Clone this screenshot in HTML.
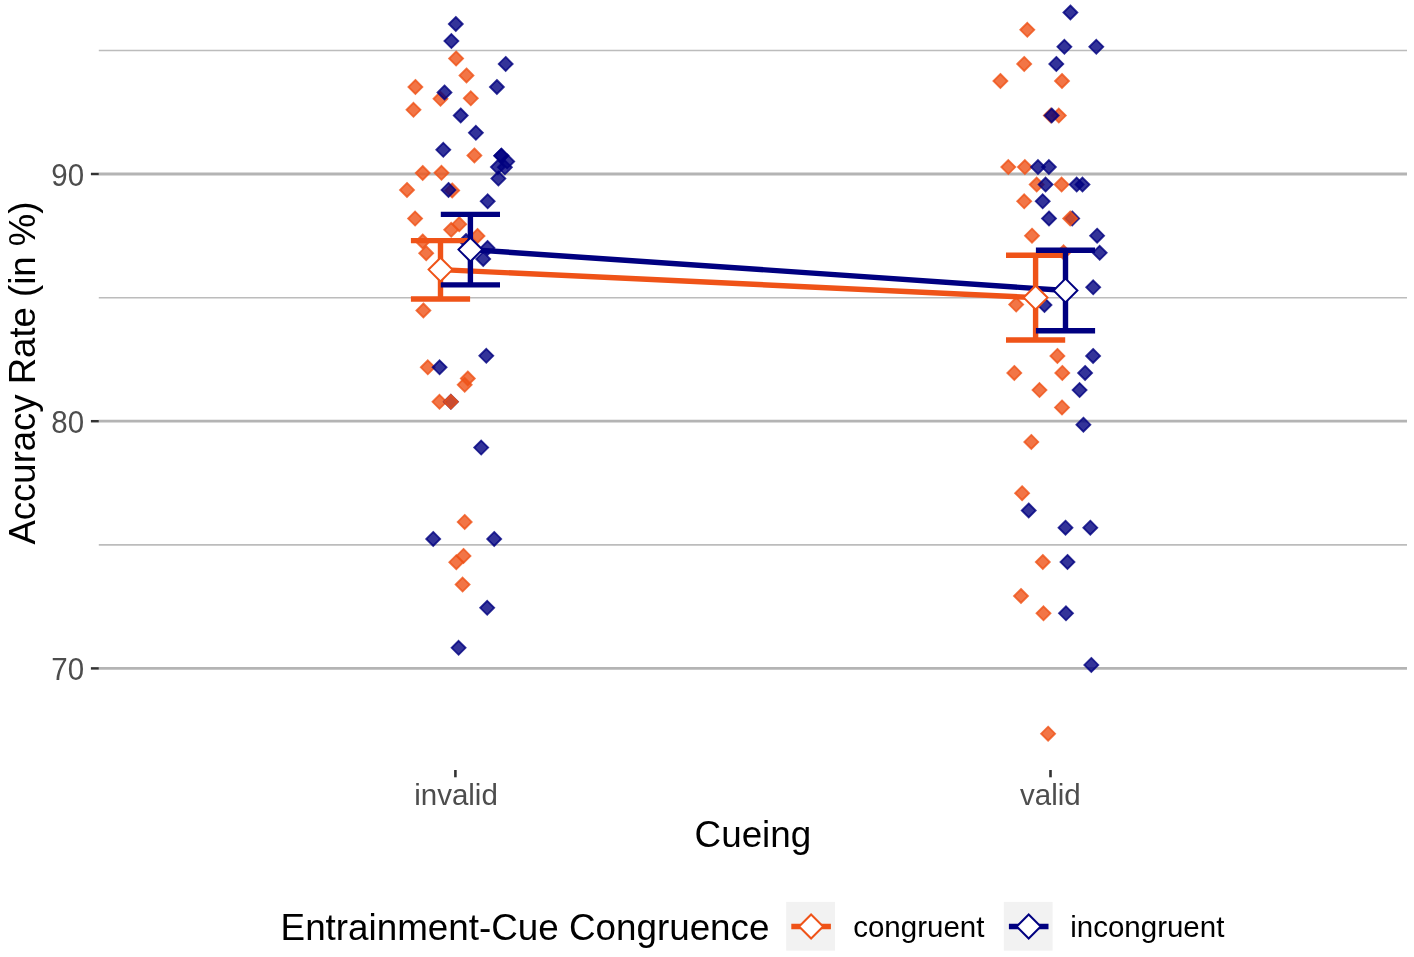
<!DOCTYPE html><html><head><meta charset="utf-8"><title>Accuracy Rate</title><style>html,body{margin:0;padding:0;background:#fff;}svg{display:block;will-change:transform;}text{font-family:"Liberation Sans",sans-serif;}</style></head><body>
<svg width="1414" height="957" viewBox="0 0 1414 957">
<rect width="1414" height="957" fill="#fff"/>
<line x1="98.8" y1="50.5" x2="1407.0" y2="50.5" stroke="#bcbcbc" stroke-width="1.6"/>
<line x1="98.8" y1="297.7" x2="1407.0" y2="297.7" stroke="#bcbcbc" stroke-width="1.6"/>
<line x1="98.8" y1="544.9" x2="1407.0" y2="544.9" stroke="#bcbcbc" stroke-width="1.6"/>
<line x1="98.8" y1="174.0" x2="1407.0" y2="174.0" stroke="#b4b4b4" stroke-width="2.8"/>
<line x1="98.8" y1="421.2" x2="1407.0" y2="421.2" stroke="#b4b4b4" stroke-width="2.8"/>
<line x1="98.8" y1="668.4" x2="1407.0" y2="668.4" stroke="#b4b4b4" stroke-width="2.8"/>
<line x1="90.9" y1="174.0" x2="98.8" y2="174.0" stroke="#333" stroke-width="2.5"/>
<line x1="90.9" y1="421.2" x2="98.8" y2="421.2" stroke="#333" stroke-width="2.5"/>
<line x1="90.9" y1="668.4" x2="98.8" y2="668.4" stroke="#333" stroke-width="2.5"/>
<line x1="455.4" y1="770" x2="455.4" y2="777.3" stroke="#333" stroke-width="2.6"/>
<line x1="1050.5" y1="770" x2="1050.5" y2="777.3" stroke="#333" stroke-width="2.6"/>
<path d="M456.1 51.5L463.1 58.5L456.1 65.5L449.1 58.5Z" fill="#EF5318" fill-opacity="0.8" stroke="#EF5318" stroke-opacity="0.8" stroke-width="1.8" stroke-linejoin="miter"/><path d="M466.5 68.4L473.5 75.4L466.5 82.4L459.5 75.4Z" fill="#EF5318" fill-opacity="0.8" stroke="#EF5318" stroke-opacity="0.8" stroke-width="1.8" stroke-linejoin="miter"/><path d="M415.4 80.0L422.4 87.0L415.4 94.0L408.4 87.0Z" fill="#EF5318" fill-opacity="0.8" stroke="#EF5318" stroke-opacity="0.8" stroke-width="1.8" stroke-linejoin="miter"/><path d="M440.5 91.8L447.5 98.8L440.5 105.8L433.5 98.8Z" fill="#EF5318" fill-opacity="0.8" stroke="#EF5318" stroke-opacity="0.8" stroke-width="1.8" stroke-linejoin="miter"/><path d="M470.8 91.3L477.8 98.3L470.8 105.3L463.8 98.3Z" fill="#EF5318" fill-opacity="0.8" stroke="#EF5318" stroke-opacity="0.8" stroke-width="1.8" stroke-linejoin="miter"/><path d="M413.5 102.8L420.5 109.8L413.5 116.8L406.5 109.8Z" fill="#EF5318" fill-opacity="0.8" stroke="#EF5318" stroke-opacity="0.8" stroke-width="1.8" stroke-linejoin="miter"/><path d="M474.4 148.4L481.4 155.4L474.4 162.4L467.4 155.4Z" fill="#EF5318" fill-opacity="0.8" stroke="#EF5318" stroke-opacity="0.8" stroke-width="1.8" stroke-linejoin="miter"/><path d="M422.7 166.0L429.7 173.0L422.7 180.0L415.7 173.0Z" fill="#EF5318" fill-opacity="0.8" stroke="#EF5318" stroke-opacity="0.8" stroke-width="1.8" stroke-linejoin="miter"/><path d="M441.5 165.8L448.5 172.8L441.5 179.8L434.5 172.8Z" fill="#EF5318" fill-opacity="0.8" stroke="#EF5318" stroke-opacity="0.8" stroke-width="1.8" stroke-linejoin="miter"/><path d="M407.0 182.9L414.0 189.9L407.0 196.9L400.0 189.9Z" fill="#EF5318" fill-opacity="0.8" stroke="#EF5318" stroke-opacity="0.8" stroke-width="1.8" stroke-linejoin="miter"/><path d="M452.2 183.4L459.2 190.4L452.2 197.4L445.2 190.4Z" fill="#EF5318" fill-opacity="0.8" stroke="#EF5318" stroke-opacity="0.8" stroke-width="1.8" stroke-linejoin="miter"/><path d="M415.1 211.6L422.1 218.6L415.1 225.6L408.1 218.6Z" fill="#EF5318" fill-opacity="0.8" stroke="#EF5318" stroke-opacity="0.8" stroke-width="1.8" stroke-linejoin="miter"/><path d="M459.2 217.2L466.2 224.2L459.2 231.2L452.2 224.2Z" fill="#EF5318" fill-opacity="0.8" stroke="#EF5318" stroke-opacity="0.8" stroke-width="1.8" stroke-linejoin="miter"/><path d="M451.2 222.8L458.2 229.8L451.2 236.8L444.2 229.8Z" fill="#EF5318" fill-opacity="0.8" stroke="#EF5318" stroke-opacity="0.8" stroke-width="1.8" stroke-linejoin="miter"/><path d="M477.5 229.0L484.5 236.0L477.5 243.0L470.5 236.0Z" fill="#EF5318" fill-opacity="0.8" stroke="#EF5318" stroke-opacity="0.8" stroke-width="1.8" stroke-linejoin="miter"/><path d="M422.7 234.5L429.7 241.5L422.7 248.5L415.7 241.5Z" fill="#EF5318" fill-opacity="0.8" stroke="#EF5318" stroke-opacity="0.8" stroke-width="1.8" stroke-linejoin="miter"/><path d="M426.2 246.2L433.2 253.2L426.2 260.2L419.2 253.2Z" fill="#EF5318" fill-opacity="0.8" stroke="#EF5318" stroke-opacity="0.8" stroke-width="1.8" stroke-linejoin="miter"/><path d="M423.4 303.5L430.4 310.5L423.4 317.5L416.4 310.5Z" fill="#EF5318" fill-opacity="0.8" stroke="#EF5318" stroke-opacity="0.8" stroke-width="1.8" stroke-linejoin="miter"/><path d="M427.8 360.3L434.8 367.3L427.8 374.3L420.8 367.3Z" fill="#EF5318" fill-opacity="0.8" stroke="#EF5318" stroke-opacity="0.8" stroke-width="1.8" stroke-linejoin="miter"/><path d="M467.8 371.5L474.8 378.5L467.8 385.5L460.8 378.5Z" fill="#EF5318" fill-opacity="0.8" stroke="#EF5318" stroke-opacity="0.8" stroke-width="1.8" stroke-linejoin="miter"/><path d="M464.7 377.8L471.7 384.8L464.7 391.8L457.7 384.8Z" fill="#EF5318" fill-opacity="0.8" stroke="#EF5318" stroke-opacity="0.8" stroke-width="1.8" stroke-linejoin="miter"/><path d="M439.5 394.8L446.5 401.8L439.5 408.8L432.5 401.8Z" fill="#EF5318" fill-opacity="0.8" stroke="#EF5318" stroke-opacity="0.8" stroke-width="1.8" stroke-linejoin="miter"/><path d="M464.7 514.9L471.7 521.9L464.7 528.9L457.7 521.9Z" fill="#EF5318" fill-opacity="0.8" stroke="#EF5318" stroke-opacity="0.8" stroke-width="1.8" stroke-linejoin="miter"/><path d="M463.5 548.9L470.5 555.9L463.5 562.9L456.5 555.9Z" fill="#EF5318" fill-opacity="0.8" stroke="#EF5318" stroke-opacity="0.8" stroke-width="1.8" stroke-linejoin="miter"/><path d="M456.3 555.2L463.3 562.2L456.3 569.2L449.3 562.2Z" fill="#EF5318" fill-opacity="0.8" stroke="#EF5318" stroke-opacity="0.8" stroke-width="1.8" stroke-linejoin="miter"/><path d="M462.6 577.6L469.6 584.6L462.6 591.6L455.6 584.6Z" fill="#EF5318" fill-opacity="0.8" stroke="#EF5318" stroke-opacity="0.8" stroke-width="1.8" stroke-linejoin="miter"/><path d="M1027.3 22.8L1034.3 29.8L1027.3 36.8L1020.3 29.8Z" fill="#EF5318" fill-opacity="0.8" stroke="#EF5318" stroke-opacity="0.8" stroke-width="1.8" stroke-linejoin="miter"/><path d="M1024.2 56.9L1031.2 63.9L1024.2 70.9L1017.2 63.9Z" fill="#EF5318" fill-opacity="0.8" stroke="#EF5318" stroke-opacity="0.8" stroke-width="1.8" stroke-linejoin="miter"/><path d="M1000.4 74.0L1007.4 81.0L1000.4 88.0L993.4 81.0Z" fill="#EF5318" fill-opacity="0.8" stroke="#EF5318" stroke-opacity="0.8" stroke-width="1.8" stroke-linejoin="miter"/><path d="M1062.0 74.0L1069.0 81.0L1062.0 88.0L1055.0 81.0Z" fill="#EF5318" fill-opacity="0.8" stroke="#EF5318" stroke-opacity="0.8" stroke-width="1.8" stroke-linejoin="miter"/><path d="M1050.8 108.6L1057.8 115.6L1050.8 122.6L1043.8 115.6Z" fill="#EF5318" fill-opacity="0.8" stroke="#EF5318" stroke-opacity="0.8" stroke-width="1.8" stroke-linejoin="miter"/><path d="M1058.8 108.6L1065.8 115.6L1058.8 122.6L1051.8 115.6Z" fill="#EF5318" fill-opacity="0.8" stroke="#EF5318" stroke-opacity="0.8" stroke-width="1.8" stroke-linejoin="miter"/><path d="M1008.3 160.1L1015.3 167.1L1008.3 174.1L1001.3 167.1Z" fill="#EF5318" fill-opacity="0.8" stroke="#EF5318" stroke-opacity="0.8" stroke-width="1.8" stroke-linejoin="miter"/><path d="M1024.9 160.1L1031.9 167.1L1024.9 174.1L1017.9 167.1Z" fill="#EF5318" fill-opacity="0.8" stroke="#EF5318" stroke-opacity="0.8" stroke-width="1.8" stroke-linejoin="miter"/><path d="M1036.7 177.6L1043.7 184.6L1036.7 191.6L1029.7 184.6Z" fill="#EF5318" fill-opacity="0.8" stroke="#EF5318" stroke-opacity="0.8" stroke-width="1.8" stroke-linejoin="miter"/><path d="M1061.6 177.6L1068.6 184.6L1061.6 191.6L1054.6 184.6Z" fill="#EF5318" fill-opacity="0.8" stroke="#EF5318" stroke-opacity="0.8" stroke-width="1.8" stroke-linejoin="miter"/><path d="M1024.2 194.3L1031.2 201.3L1024.2 208.3L1017.2 201.3Z" fill="#EF5318" fill-opacity="0.8" stroke="#EF5318" stroke-opacity="0.8" stroke-width="1.8" stroke-linejoin="miter"/><path d="M1032.0 228.7L1039.0 235.7L1032.0 242.7L1025.0 235.7Z" fill="#EF5318" fill-opacity="0.8" stroke="#EF5318" stroke-opacity="0.8" stroke-width="1.8" stroke-linejoin="miter"/><path d="M1063.6 245.3L1070.6 252.3L1063.6 259.3L1056.6 252.3Z" fill="#EF5318" fill-opacity="0.8" stroke="#EF5318" stroke-opacity="0.8" stroke-width="1.8" stroke-linejoin="miter"/><path d="M1016.2 297.6L1023.2 304.6L1016.2 311.6L1009.2 304.6Z" fill="#EF5318" fill-opacity="0.8" stroke="#EF5318" stroke-opacity="0.8" stroke-width="1.8" stroke-linejoin="miter"/><path d="M1057.4 348.9L1064.4 355.9L1057.4 362.9L1050.4 355.9Z" fill="#EF5318" fill-opacity="0.8" stroke="#EF5318" stroke-opacity="0.8" stroke-width="1.8" stroke-linejoin="miter"/><path d="M1014.3 365.9L1021.3 372.9L1014.3 379.9L1007.3 372.9Z" fill="#EF5318" fill-opacity="0.8" stroke="#EF5318" stroke-opacity="0.8" stroke-width="1.8" stroke-linejoin="miter"/><path d="M1062.3 365.9L1069.3 372.9L1062.3 379.9L1055.3 372.9Z" fill="#EF5318" fill-opacity="0.8" stroke="#EF5318" stroke-opacity="0.8" stroke-width="1.8" stroke-linejoin="miter"/><path d="M1039.5 383.1L1046.5 390.1L1039.5 397.1L1032.5 390.1Z" fill="#EF5318" fill-opacity="0.8" stroke="#EF5318" stroke-opacity="0.8" stroke-width="1.8" stroke-linejoin="miter"/><path d="M1062.0 400.4L1069.0 407.4L1062.0 414.4L1055.0 407.4Z" fill="#EF5318" fill-opacity="0.8" stroke="#EF5318" stroke-opacity="0.8" stroke-width="1.8" stroke-linejoin="miter"/><path d="M1031.3 434.9L1038.3 441.9L1031.3 448.9L1024.3 441.9Z" fill="#EF5318" fill-opacity="0.8" stroke="#EF5318" stroke-opacity="0.8" stroke-width="1.8" stroke-linejoin="miter"/><path d="M1022.1 486.2L1029.1 493.2L1022.1 500.2L1015.1 493.2Z" fill="#EF5318" fill-opacity="0.8" stroke="#EF5318" stroke-opacity="0.8" stroke-width="1.8" stroke-linejoin="miter"/><path d="M1042.8 555.0L1049.8 562.0L1042.8 569.0L1035.8 562.0Z" fill="#EF5318" fill-opacity="0.8" stroke="#EF5318" stroke-opacity="0.8" stroke-width="1.8" stroke-linejoin="miter"/><path d="M1021.0 589.0L1028.0 596.0L1021.0 603.0L1014.0 596.0Z" fill="#EF5318" fill-opacity="0.8" stroke="#EF5318" stroke-opacity="0.8" stroke-width="1.8" stroke-linejoin="miter"/><path d="M1043.5 606.3L1050.5 613.3L1043.5 620.3L1036.5 613.3Z" fill="#EF5318" fill-opacity="0.8" stroke="#EF5318" stroke-opacity="0.8" stroke-width="1.8" stroke-linejoin="miter"/><path d="M1048.1 726.7L1055.1 733.7L1048.1 740.7L1041.1 733.7Z" fill="#EF5318" fill-opacity="0.8" stroke="#EF5318" stroke-opacity="0.8" stroke-width="1.8" stroke-linejoin="miter"/>
<path d="M455.8 17.0L462.8 24.0L455.8 31.0L448.8 24.0Z" fill="#000080" fill-opacity="0.8" stroke="#000080" stroke-opacity="0.8" stroke-width="1.8" stroke-linejoin="miter"/><path d="M451.4 34.1L458.4 41.1L451.4 48.1L444.4 41.1Z" fill="#000080" fill-opacity="0.8" stroke="#000080" stroke-opacity="0.8" stroke-width="1.8" stroke-linejoin="miter"/><path d="M505.7 56.9L512.7 63.9L505.7 70.9L498.7 63.9Z" fill="#000080" fill-opacity="0.8" stroke="#000080" stroke-opacity="0.8" stroke-width="1.8" stroke-linejoin="miter"/><path d="M496.9 80.0L503.9 87.0L496.9 94.0L489.9 87.0Z" fill="#000080" fill-opacity="0.8" stroke="#000080" stroke-opacity="0.8" stroke-width="1.8" stroke-linejoin="miter"/><path d="M444.5 85.4L451.5 92.4L444.5 99.4L437.5 92.4Z" fill="#000080" fill-opacity="0.8" stroke="#000080" stroke-opacity="0.8" stroke-width="1.8" stroke-linejoin="miter"/><path d="M460.7 108.5L467.7 115.5L460.7 122.5L453.7 115.5Z" fill="#000080" fill-opacity="0.8" stroke="#000080" stroke-opacity="0.8" stroke-width="1.8" stroke-linejoin="miter"/><path d="M475.9 125.8L482.9 132.8L475.9 139.8L468.9 132.8Z" fill="#000080" fill-opacity="0.8" stroke="#000080" stroke-opacity="0.8" stroke-width="1.8" stroke-linejoin="miter"/><path d="M443.3 142.8L450.3 149.8L443.3 156.8L436.3 149.8Z" fill="#000080" fill-opacity="0.8" stroke="#000080" stroke-opacity="0.8" stroke-width="1.8" stroke-linejoin="miter"/><path d="M501.3 148.7L508.3 155.7L501.3 162.7L494.3 155.7Z" fill="#000080" fill-opacity="0.8" stroke="#000080" stroke-opacity="0.8" stroke-width="1.8" stroke-linejoin="miter"/><path d="M501.3 148.7L508.3 155.7L501.3 162.7L494.3 155.7Z" fill="#000080" fill-opacity="0.8" stroke="#000080" stroke-opacity="0.8" stroke-width="1.8" stroke-linejoin="miter"/><path d="M507.2 154.5L514.2 161.5L507.2 168.5L500.2 161.5Z" fill="#000080" fill-opacity="0.8" stroke="#000080" stroke-opacity="0.8" stroke-width="1.8" stroke-linejoin="miter"/><path d="M497.9 160.1L504.9 167.1L497.9 174.1L490.9 167.1Z" fill="#000080" fill-opacity="0.8" stroke="#000080" stroke-opacity="0.8" stroke-width="1.8" stroke-linejoin="miter"/><path d="M504.9 160.3L511.9 167.3L504.9 174.3L497.9 167.3Z" fill="#000080" fill-opacity="0.8" stroke="#000080" stroke-opacity="0.8" stroke-width="1.8" stroke-linejoin="miter"/><path d="M498.4 171.6L505.4 178.6L498.4 185.6L491.4 178.6Z" fill="#000080" fill-opacity="0.8" stroke="#000080" stroke-opacity="0.8" stroke-width="1.8" stroke-linejoin="miter"/><path d="M448.5 182.9L455.5 189.9L448.5 196.9L441.5 189.9Z" fill="#000080" fill-opacity="0.8" stroke="#000080" stroke-opacity="0.8" stroke-width="1.8" stroke-linejoin="miter"/><path d="M487.7 194.3L494.7 201.3L487.7 208.3L480.7 201.3Z" fill="#000080" fill-opacity="0.8" stroke="#000080" stroke-opacity="0.8" stroke-width="1.8" stroke-linejoin="miter"/><path d="M466.0 234.0L473.0 241.0L466.0 248.0L459.0 241.0Z" fill="#000080" fill-opacity="0.8" stroke="#000080" stroke-opacity="0.8" stroke-width="1.8" stroke-linejoin="miter"/><path d="M487.5 241.0L494.5 248.0L487.5 255.0L480.5 248.0Z" fill="#000080" fill-opacity="0.8" stroke="#000080" stroke-opacity="0.8" stroke-width="1.8" stroke-linejoin="miter"/><path d="M483.2 252.0L490.2 259.0L483.2 266.0L476.2 259.0Z" fill="#000080" fill-opacity="0.8" stroke="#000080" stroke-opacity="0.8" stroke-width="1.8" stroke-linejoin="miter"/><path d="M486.3 348.8L493.3 355.8L486.3 362.8L479.3 355.8Z" fill="#000080" fill-opacity="0.8" stroke="#000080" stroke-opacity="0.8" stroke-width="1.8" stroke-linejoin="miter"/><path d="M439.6 360.3L446.6 367.3L439.6 374.3L432.6 367.3Z" fill="#000080" fill-opacity="0.8" stroke="#000080" stroke-opacity="0.8" stroke-width="1.8" stroke-linejoin="miter"/><path d="M450.9 394.8L457.9 401.8L450.9 408.8L443.9 401.8Z" fill="#000080" fill-opacity="0.8" stroke="#000080" stroke-opacity="0.8" stroke-width="1.8" stroke-linejoin="miter"/><path d="M481.2 440.6L488.2 447.6L481.2 454.6L474.2 447.6Z" fill="#000080" fill-opacity="0.8" stroke="#000080" stroke-opacity="0.8" stroke-width="1.8" stroke-linejoin="miter"/><path d="M433.2 531.9L440.2 538.9L433.2 545.9L426.2 538.9Z" fill="#000080" fill-opacity="0.8" stroke="#000080" stroke-opacity="0.8" stroke-width="1.8" stroke-linejoin="miter"/><path d="M494.2 531.9L501.2 538.9L494.2 545.9L487.2 538.9Z" fill="#000080" fill-opacity="0.8" stroke="#000080" stroke-opacity="0.8" stroke-width="1.8" stroke-linejoin="miter"/><path d="M487.2 600.8L494.2 607.8L487.2 614.8L480.2 607.8Z" fill="#000080" fill-opacity="0.8" stroke="#000080" stroke-opacity="0.8" stroke-width="1.8" stroke-linejoin="miter"/><path d="M458.6 640.8L465.6 647.8L458.6 654.8L451.6 647.8Z" fill="#000080" fill-opacity="0.8" stroke="#000080" stroke-opacity="0.8" stroke-width="1.8" stroke-linejoin="miter"/><path d="M1070.4 5.5L1077.4 12.5L1070.4 19.5L1063.4 12.5Z" fill="#000080" fill-opacity="0.8" stroke="#000080" stroke-opacity="0.8" stroke-width="1.8" stroke-linejoin="miter"/><path d="M1064.4 39.8L1071.4 46.8L1064.4 53.8L1057.4 46.8Z" fill="#000080" fill-opacity="0.8" stroke="#000080" stroke-opacity="0.8" stroke-width="1.8" stroke-linejoin="miter"/><path d="M1096.3 39.8L1103.3 46.8L1096.3 53.8L1089.3 46.8Z" fill="#000080" fill-opacity="0.8" stroke="#000080" stroke-opacity="0.8" stroke-width="1.8" stroke-linejoin="miter"/><path d="M1056.3 56.9L1063.3 63.9L1056.3 70.9L1049.3 63.9Z" fill="#000080" fill-opacity="0.8" stroke="#000080" stroke-opacity="0.8" stroke-width="1.8" stroke-linejoin="miter"/><path d="M1051.7 108.5L1058.7 115.5L1051.7 122.5L1044.7 115.5Z" fill="#000080" fill-opacity="0.8" stroke="#000080" stroke-opacity="0.8" stroke-width="1.8" stroke-linejoin="miter"/><path d="M1038.0 160.1L1045.0 167.1L1038.0 174.1L1031.0 167.1Z" fill="#000080" fill-opacity="0.8" stroke="#000080" stroke-opacity="0.8" stroke-width="1.8" stroke-linejoin="miter"/><path d="M1048.9 160.1L1055.9 167.1L1048.9 174.1L1041.9 167.1Z" fill="#000080" fill-opacity="0.8" stroke="#000080" stroke-opacity="0.8" stroke-width="1.8" stroke-linejoin="miter"/><path d="M1045.6 177.6L1052.6 184.6L1045.6 191.6L1038.6 184.6Z" fill="#000080" fill-opacity="0.8" stroke="#000080" stroke-opacity="0.8" stroke-width="1.8" stroke-linejoin="miter"/><path d="M1076.7 177.6L1083.7 184.6L1076.7 191.6L1069.7 184.6Z" fill="#000080" fill-opacity="0.8" stroke="#000080" stroke-opacity="0.8" stroke-width="1.8" stroke-linejoin="miter"/><path d="M1082.5 177.6L1089.5 184.6L1082.5 191.6L1075.5 184.6Z" fill="#000080" fill-opacity="0.8" stroke="#000080" stroke-opacity="0.8" stroke-width="1.8" stroke-linejoin="miter"/><path d="M1042.7 194.3L1049.7 201.3L1042.7 208.3L1035.7 201.3Z" fill="#000080" fill-opacity="0.8" stroke="#000080" stroke-opacity="0.8" stroke-width="1.8" stroke-linejoin="miter"/><path d="M1049.0 211.5L1056.0 218.5L1049.0 225.5L1042.0 218.5Z" fill="#000080" fill-opacity="0.8" stroke="#000080" stroke-opacity="0.8" stroke-width="1.8" stroke-linejoin="miter"/><path d="M1072.2 211.5L1079.2 218.5L1072.2 225.5L1065.2 218.5Z" fill="#000080" fill-opacity="0.8" stroke="#000080" stroke-opacity="0.8" stroke-width="1.8" stroke-linejoin="miter"/><path d="M1097.1 228.7L1104.1 235.7L1097.1 242.7L1090.1 235.7Z" fill="#000080" fill-opacity="0.8" stroke="#000080" stroke-opacity="0.8" stroke-width="1.8" stroke-linejoin="miter"/><path d="M1099.7 245.8L1106.7 252.8L1099.7 259.8L1092.7 252.8Z" fill="#000080" fill-opacity="0.8" stroke="#000080" stroke-opacity="0.8" stroke-width="1.8" stroke-linejoin="miter"/><path d="M1093.2 280.3L1100.2 287.3L1093.2 294.3L1086.2 287.3Z" fill="#000080" fill-opacity="0.8" stroke="#000080" stroke-opacity="0.8" stroke-width="1.8" stroke-linejoin="miter"/><path d="M1044.5 298.0L1051.5 305.0L1044.5 312.0L1037.5 305.0Z" fill="#000080" fill-opacity="0.8" stroke="#000080" stroke-opacity="0.8" stroke-width="1.8" stroke-linejoin="miter"/><path d="M1093.1 348.9L1100.1 355.9L1093.1 362.9L1086.1 355.9Z" fill="#000080" fill-opacity="0.8" stroke="#000080" stroke-opacity="0.8" stroke-width="1.8" stroke-linejoin="miter"/><path d="M1085.1 365.9L1092.1 372.9L1085.1 379.9L1078.1 372.9Z" fill="#000080" fill-opacity="0.8" stroke="#000080" stroke-opacity="0.8" stroke-width="1.8" stroke-linejoin="miter"/><path d="M1079.6 383.1L1086.6 390.1L1079.6 397.1L1072.6 390.1Z" fill="#000080" fill-opacity="0.8" stroke="#000080" stroke-opacity="0.8" stroke-width="1.8" stroke-linejoin="miter"/><path d="M1083.4 417.7L1090.4 424.7L1083.4 431.7L1076.4 424.7Z" fill="#000080" fill-opacity="0.8" stroke="#000080" stroke-opacity="0.8" stroke-width="1.8" stroke-linejoin="miter"/><path d="M1028.7 503.5L1035.7 510.5L1028.7 517.5L1021.7 510.5Z" fill="#000080" fill-opacity="0.8" stroke="#000080" stroke-opacity="0.8" stroke-width="1.8" stroke-linejoin="miter"/><path d="M1065.5 520.7L1072.5 527.7L1065.5 534.7L1058.5 527.7Z" fill="#000080" fill-opacity="0.8" stroke="#000080" stroke-opacity="0.8" stroke-width="1.8" stroke-linejoin="miter"/><path d="M1090.3 520.7L1097.3 527.7L1090.3 534.7L1083.3 527.7Z" fill="#000080" fill-opacity="0.8" stroke="#000080" stroke-opacity="0.8" stroke-width="1.8" stroke-linejoin="miter"/><path d="M1067.5 555.0L1074.5 562.0L1067.5 569.0L1060.5 562.0Z" fill="#000080" fill-opacity="0.8" stroke="#000080" stroke-opacity="0.8" stroke-width="1.8" stroke-linejoin="miter"/><path d="M1066.0 606.3L1073.0 613.3L1066.0 620.3L1059.0 613.3Z" fill="#000080" fill-opacity="0.8" stroke="#000080" stroke-opacity="0.8" stroke-width="1.8" stroke-linejoin="miter"/><path d="M1091.3 657.9L1098.3 664.9L1091.3 671.9L1084.3 664.9Z" fill="#000080" fill-opacity="0.8" stroke="#000080" stroke-opacity="0.8" stroke-width="1.8" stroke-linejoin="miter"/>
<path d="M450.9 394.8L457.9 401.8L450.9 408.8L443.9 401.8Z" fill="#EF5318" fill-opacity="0.8" stroke="#EF5318" stroke-opacity="0.8" stroke-width="1.8" stroke-linejoin="miter"/><path d="M1070.2 211.5L1077.2 218.5L1070.2 225.5L1063.2 218.5Z" fill="#EF5318" fill-opacity="0.8" stroke="#EF5318" stroke-opacity="0.8" stroke-width="1.8" stroke-linejoin="miter"/>
<line x1="440.5" y1="269.6" x2="1035.6" y2="297.6" stroke="#EF5318" stroke-width="5.4"/>
<line x1="470.4" y1="249.6" x2="1065.5" y2="290.5" stroke="#000080" stroke-width="5.4"/>
<path d="M410.9 240.6H470.1M440.5 240.6V299.0M410.9 299.0H470.1" fill="none" stroke="#EF5318" stroke-width="5.4" stroke-linejoin="miter"/>
<path d="M1006.0 255.3H1065.2M1035.6 255.3V340.0M1006.0 340.0H1065.2" fill="none" stroke="#EF5318" stroke-width="5.4" stroke-linejoin="miter"/>
<path d="M440.8 214.4H500.0M470.4 214.4V284.9M440.8 284.9H500.0" fill="none" stroke="#000080" stroke-width="5.4" stroke-linejoin="miter"/>
<path d="M1035.9 250.2H1095.1M1065.5 250.2V330.8M1035.9 330.8H1095.1" fill="none" stroke="#000080" stroke-width="5.4" stroke-linejoin="miter"/>
<path d="M440.5 257.7L452.4 269.6L440.5 281.5L428.6 269.6Z" fill="#fff" stroke="#EF5318" stroke-width="2.0"/>
<path d="M1035.6 285.7L1047.5 297.6L1035.6 309.5L1023.7 297.6Z" fill="#fff" stroke="#EF5318" stroke-width="2.0"/>
<path d="M470.4 237.7L482.3 249.6L470.4 261.5L458.5 249.6Z" fill="#fff" stroke="#000080" stroke-width="2.0"/>
<path d="M1065.5 278.6L1077.4 290.5L1065.5 302.4L1053.6 290.5Z" fill="#fff" stroke="#000080" stroke-width="2.0"/>
<text transform="translate(84.1 185.7) scale(1 1.08)" text-anchor="end" font-size="29.5" fill="#4d4d4d">90</text>
<text transform="translate(84.1 432.9) scale(1 1.08)" text-anchor="end" font-size="29.5" fill="#4d4d4d">80</text>
<text transform="translate(84.1 680.1) scale(1 1.08)" text-anchor="end" font-size="29.5" fill="#4d4d4d">70</text>
<text transform="translate(456.0 805.0)" text-anchor="middle" font-size="29.5" fill="#4d4d4d">invalid</text>
<text transform="translate(1050.4 805.0)" text-anchor="middle" font-size="29.5" fill="#4d4d4d">valid</text>
<text transform="translate(752.9 846.5)" text-anchor="middle" font-size="36.8" fill="#000">Cueing</text>
<text transform="translate(35.3 373.1) rotate(-90)" text-anchor="middle" font-size="36.5" fill="#000">Accuracy Rate (in %)</text>
<text transform="translate(280.6 940.1)" font-size="36.8" fill="#000">Entrainment-Cue Congruence</text>
<rect x="786.2" y="901.9" width="48.8" height="48.8" fill="#f2f2f2"/>
<line x1="791.3" y1="926.5" x2="830.9" y2="926.5" stroke="#EF5318" stroke-width="5.4"/>
<path d="M811.1 914.5L823.1 926.5L811.1 938.5L799.1 926.5Z" fill="#fff" stroke="#EF5318" stroke-width="2.0"/>
<text transform="translate(853.2 937.4)" font-size="29.5" fill="#000">congruent</text>
<rect x="1003.8" y="901.9" width="48.8" height="48.8" fill="#f2f2f2"/>
<line x1="1008.9" y1="926.5" x2="1048.5" y2="926.5" stroke="#000080" stroke-width="5.4"/>
<path d="M1028.7 914.5L1040.7 926.5L1028.7 938.5L1016.7 926.5Z" fill="#fff" stroke="#000080" stroke-width="2.0"/>
<text transform="translate(1070.2 937.4)" font-size="29.5" fill="#000">incongruent</text>
</svg></body></html>
